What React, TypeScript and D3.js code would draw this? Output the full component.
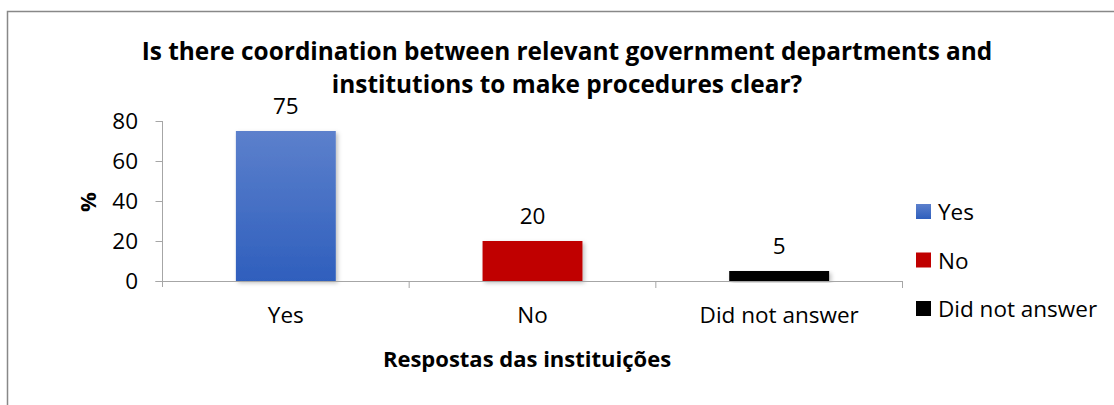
import React from "react";
import * as d3 from "d3";

const categories = ["Yes", "No", "Did not answer"];
const values = [75, 20, 5];
const colors = ["url(#blueGrad)", "#c00000", "#000000"];
const yTicks = [0, 20, 40, 60, 80];
const titleLines = [
  "Is there coordination between relevant government departments and",
  "institutions to make procedures clear?",
];
const xTitle = "Respostas das instituições";
const yTitle = "%";

const FONT = "'Open Sans', sans-serif";

export default function App() {
  const x0 = 162.5, x1 = 902.5, y0 = 281, y1 = 121;
  const x = d3.scaleBand<string>().domain(categories).range([x0, x1]).paddingInner(0).paddingOuter(0);
  const y = d3.scaleLinear().domain([0, 80]).range([y0, y1]);
  const barW = x.bandwidth() * 0.405;
  const titleCx = 567;
  const legendX = 916;
  const legendY0 = 204;
  const legendStep = 48.5;
  const fs = 22.5;

  return (
    <svg width={1114} height={405} style={{ position: "absolute", left: 0, top: 0, background: "#fff" }}
      fontFamily={FONT}>
      <defs>
        <linearGradient id="blueGrad" x1="0" y1="0" x2="0" y2="1">
          <stop offset="0%" stopColor="#5c80cc" />
          <stop offset="100%" stopColor="#2f5fbd" />
        </linearGradient>
        <filter id="shadow" x="-10%" y="-10%" width="130%" height="130%">
          <feDropShadow dx="2" dy="2" stdDeviation="2" floodColor="#000" floodOpacity="0.25" />
        </filter>
      </defs>
      <rect x={0} y={0} width={1114} height={405} fill="#fff" />
      <path d={`M7.5,405 V11.5 H1114`} fill="none" stroke="#888" strokeWidth={1.5} />
      {titleLines.map((t, i) => (
        <text key={i} x={titleCx} y={60 + i * 33} textAnchor="middle" fontWeight="bold" fontSize={24.4} fill="#000">{t}</text>
      ))}
      {categories.map((c, i) => {
        const cx = (x(c) as number) + x.bandwidth() / 2;
        return (
          <g key={c}>
            <rect x={cx - barW / 2} y={y(values[i])} width={barW} height={y0 - y(values[i])} fill={colors[i]} filter="url(#shadow)" />
            <text x={cx} y={y(values[i]) - 17} textAnchor="middle" fontSize={fs} fill="#000">{values[i]}</text>
            <text x={cx} y={323} textAnchor="middle" fontSize={fs} fill="#000">{c}</text>
          </g>
        );
      })}
      <line x1={x0} x2={x0} y1={y1} y2={y0 + 6} stroke="#a6a6a6" strokeWidth={1} />
      {yTicks.map((t) => (
        <g key={t}>
          <line x1={x0 - 7} x2={x0} y1={Math.round(y(t)) + 0.5} y2={Math.round(y(t)) + 0.5} stroke="#a6a6a6" />
          <text x={138} y={y(t) + 8} textAnchor="end" fontSize={fs} fill="#000">{t}</text>
        </g>
      ))}
      <line x1={x0 - 7} x2={x1} y1={y0 + 0.5} y2={y0 + 0.5} stroke="#a6a6a6" />
      {categories.map((c) => (
        <line key={c} x1={(x(c) as number) + x.bandwidth()} x2={(x(c) as number) + x.bandwidth()} y1={y0} y2={y0 + 7} stroke="#a6a6a6" />
      ))}
      <text x={527} y={367} textAnchor="middle" fontWeight="bold" fontSize={22} fill="#000">{xTitle}</text>
      <text transform={`translate(96,202) rotate(-90)`} textAnchor="middle" fontWeight="bold" fontSize={22} fill="#000">{yTitle}</text>
      {categories.map((c, i) => (
        <g key={c}>
          <rect x={legendX} y={legendY0 + i * legendStep} width={15} height={15} fill={colors[i]} />
          <text x={legendX + 22} y={legendY0 + i * legendStep + 16} fontSize={fs} fill="#000">{c}</text>
        </g>
      ))}
    </svg>
  );
}
